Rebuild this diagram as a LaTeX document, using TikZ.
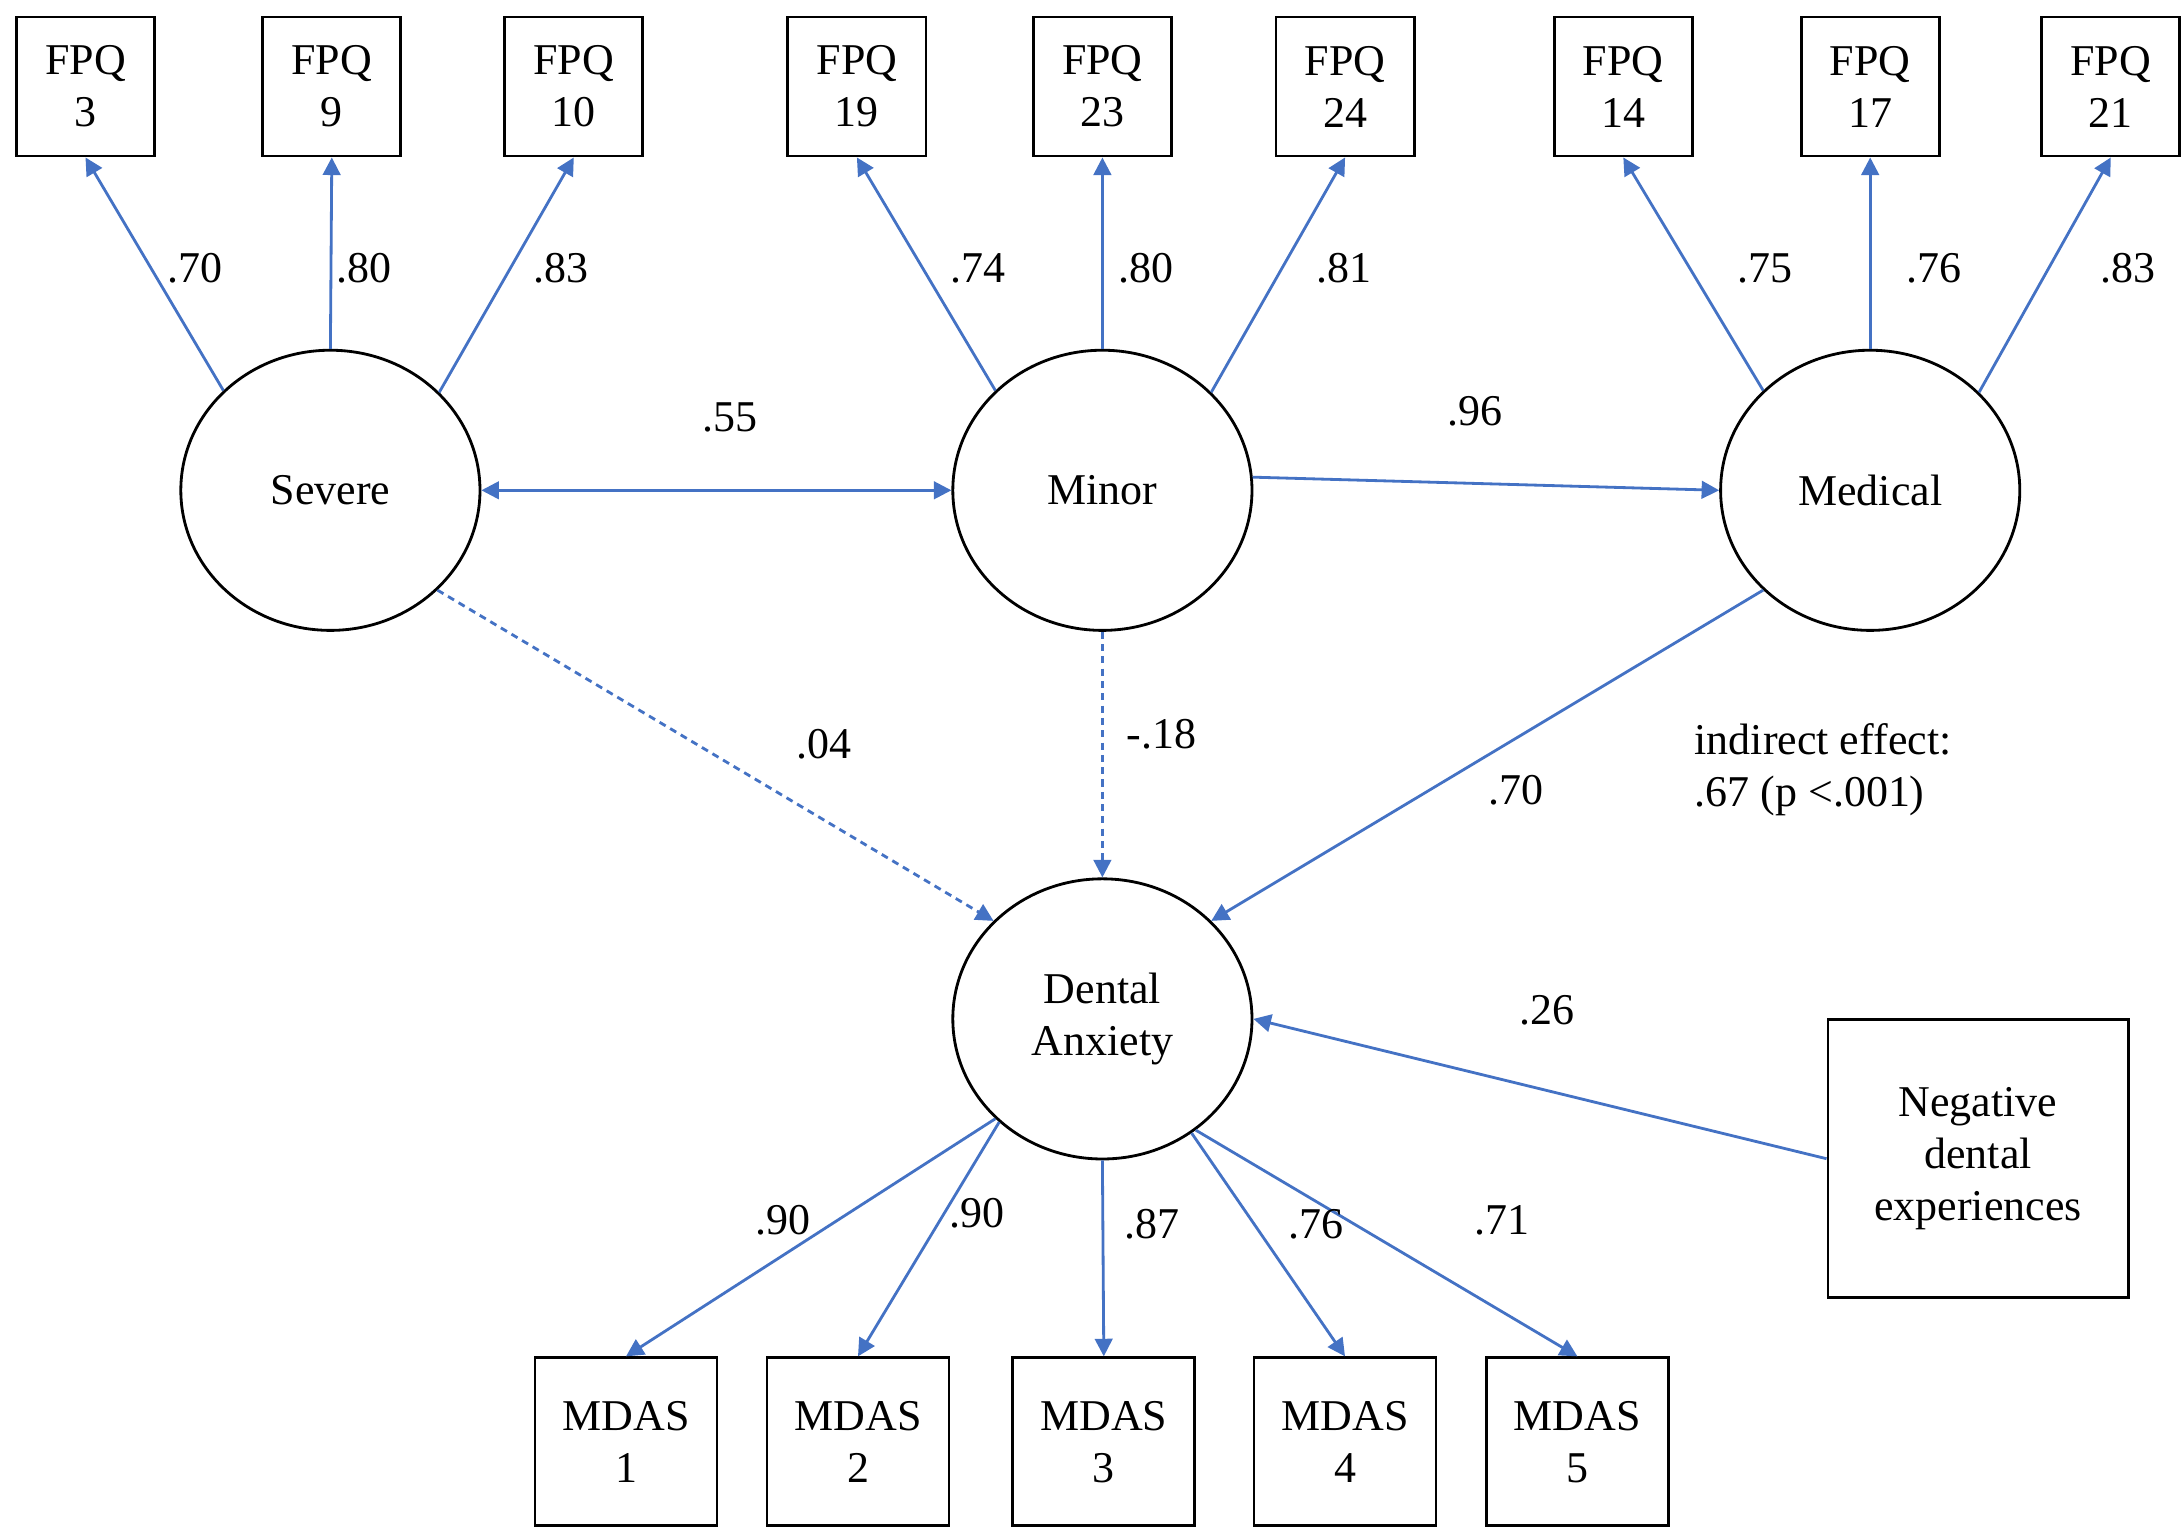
\documentclass[tikz,border=0pt]{standalone}
\usepackage{fontspec}
\setmainfont{Liberation Serif}
\usetikzlibrary{shapes.geometric,arrows.meta}
\definecolor{pathblue}{RGB}{68,114,196}

\begin{document}
\begin{tikzpicture}[x=0.01cm, y=-0.01cm,
    font=\fontsize{12.5}{14.8}\selectfont,
    obsbox/.style={draw, line width=0.8pt, minimum width=1.38cm, minimum height=1.39cm, inner sep=0pt, align=center},
    mdasbox/.style={obsbox, minimum width=1.82cm, minimum height=1.68cm},
    latent/.style={draw, ellipse, line width=0.8pt, minimum width=2.99cm, minimum height=2.80cm, inner sep=0pt, align=center},
    effect/.style={pathblue, line width=0.8pt, -{Triangle[length=5pt,width=5pt]}},
    nseffect/.style={effect, dash pattern=on 2pt off 1.5pt},
    coef/.style={inner sep=1pt}]
    \useasboundingbox (0,0) rectangle (2181,1530);

    % FPQ items
    \node[obsbox] (fpq3)  at (85.5,86.5)   {FPQ\\3};
    \node[obsbox] (fpq9)  at (331.8,86.5)  {FPQ\\9};
    \node[obsbox] (fpq10) at (573.8,86.5)  {FPQ\\10};
    \node[obsbox] (fpq19) at (856.9,86.5)  {FPQ\\19};
    \node[obsbox] (fpq23) at (1102.4,86.5) {FPQ\\23};
    \node[obsbox] (fpq24) at (1345.1,86.5) {FPQ\\24};
    \node[obsbox] (fpq14) at (1623.3,86.5) {FPQ\\14};
    \node[obsbox] (fpq17) at (1870.2,86.5) {FPQ\\17};
    \node[obsbox] (fpq21) at (2110.8,86.5) {FPQ\\21};

    % latente Faktoren
    \node[latent] (sev) at (330.4,490.3)  {Severe};
    \node[latent] (min) at (1102.4,490.3) {Minor};
    \node[latent] (med) at (1870.2,490.3) {Medical};
    \node[latent] (den) at (1102.4,1018.9) {Dental\\Anxiety};

    % MDAS items
    \node[mdasbox] (mdas1) at (626,1441.8)    {MDAS\\1};
    \node[mdasbox] (mdas2) at (858,1441.8)    {MDAS\\2};
    \node[mdasbox] (mdas3) at (1103.8,1441.8) {MDAS\\3};
    \node[mdasbox] (mdas4) at (1345,1441.8)   {MDAS\\4};
    \node[mdasbox] (mdas5) at (1577.4,1441.8) {MDAS\\5};

    % Kovariate
    \node[obsbox, minimum width=3.00cm, minimum height=2.78cm] (neg) at (1978,1158.7) {Negative\\dental\\experiences};

    % Ladungen
    \draw[effect] (sev.137) -- (fpq3.south);
    \draw[effect] (sev.north) -- (fpq9.south);
    \draw[effect] (sev.42) -- (fpq10.south);
    \draw[effect] (min.137) -- (fpq19.south);
    \draw[effect] (min.north) -- (fpq23.south);
    \draw[effect] (min.42) -- (fpq24.south);
    \draw[effect] (med.137) -- (fpq14.south);
    \draw[effect] (med.north) -- (fpq17.south);
    \draw[effect] (med.42) -- (fpq21.south);

    \node[coef] (l3)  at (194.7,268.5)  {.70};
    \node[coef] (l9)  at (364.4,268.5)  {.80};
    \node[coef] (l10) at (560.6,268.5)  {.83};
    \node[coef] (l19) at (977.9,268.5)  {.74};
    \node[coef] (l23) at (1146.2,268.5) {.80};
    \node[coef] (l24) at (1343.7,268.5) {.81};
    \node[coef] (l14) at (1765.2,268.5) {.75};
    \node[coef] (l17) at (1933.5,268.5) {.76};
    \node[coef] (l21) at (2128.2,268.5) {.83};

    % Strukturpfade
    \draw[effect, {Triangle[length=5pt,width=5pt]}-{Triangle[length=5pt,width=5pt]}] (sev.east) -- (min.west);
    \draw[effect] (min.5) -- (med.west);
    \draw[nseffect] (sev.317) -- (den.138);
    \draw[nseffect] (min.south) -- (den.north);
    \draw[effect] (med.223) -- (den.42);
    \draw[effect] (neg.west) -- (den.east);

    \node[coef] (lsm) at (730.3,417.3)   {.55};
    \node[coef] (lmm) at (1474.5,411.7)  {.96};
    \node[coef] (lsd) at (823.5,744.2)   {.04};
    \node[coef] (lmd) at (1161.5,734.4)  {-.18};
    \node[coef] (lhd) at (1516.2,790.1)  {.70};
    \node[coef] (lnd) at (1546.8,1009.9) {.26};
    \node[inner sep=0pt, anchor=west, align=left] (indir) at (1694,770) {indirect effect:\\.67 (p <.001)};

    % Dental Anxiety -> MDAS
    \draw[effect] (den.223) -- (mdas1.north);
    \draw[effect] (den.225) -- (mdas2.north);
    \draw[effect] (den.south) -- (mdas3.north);
    \draw[effect] (den.308) -- (mdas4.north);
    \draw[effect] (den.310) -- (mdas5.north);

    \node[coef] (lm1) at (783.1,1219.9)  {.90};
    \node[coef] (lm2) at (976.5,1213)    {.90};
    \node[coef] (lm3) at (1151.7,1224.1) {.87};
    \node[coef] (lm4) at (1315.9,1224.1) {.76};
    \node[coef] (lm5) at (1502.3,1219.9) {.71};
\end{tikzpicture}
\end{document}
